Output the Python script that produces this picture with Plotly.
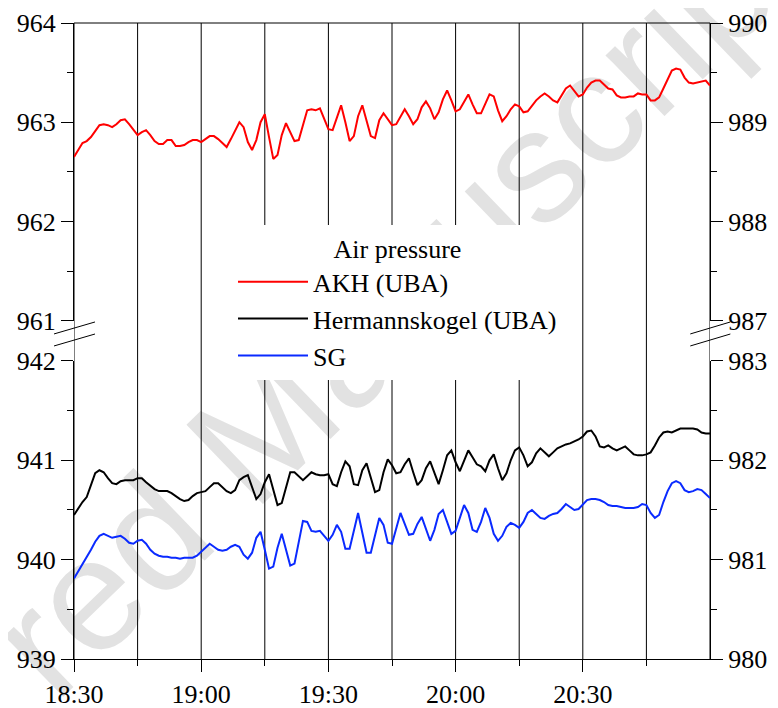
import plotly.graph_objects as go
import pandas as pd

# one reading per minute, 18:30 .. 21:00
times = pd.date_range("2000-01-01 18:30", "2000-01-01 21:00", freq="min")

akh = [962.65, 962.72, 962.79, 962.81, 962.85, 962.91, 962.97, 962.98, 962.97, 962.95,
       962.98, 963.02, 963.03, 962.98, 962.92, 962.87, 962.90, 962.92, 962.87, 962.81,
       962.78, 962.78, 962.82, 962.82, 962.76, 962.76, 962.77, 962.80, 962.82, 962.82,
       962.80, 962.83, 962.86, 962.86, 962.83, 962.79, 962.75, 962.83, 962.92, 963.00,
       962.95, 962.80, 962.72, 962.82, 963.00, 963.08, 962.85, 962.63, 962.67, 962.87,
       962.99, 962.90, 962.81, 962.82, 962.98, 963.12, 963.13, 963.12, 963.14, 963.03,
       962.93, 962.92, 963.05, 963.17, 963.00, 962.81, 962.86, 963.06, 963.17, 963.02,
       962.86, 962.84, 963.02, 963.09, 963.03, 962.97, 962.98, 963.05, 963.13, 963.06,
       962.98, 963.03, 963.15, 963.21, 963.14, 963.03, 963.10, 963.23, 963.32, 963.22,
       963.11, 963.13, 963.21, 963.28, 963.18, 963.09, 963.09, 963.18, 963.28, 963.26,
       963.12, 963.01, 963.06, 963.13, 963.18, 963.16, 963.10, 963.11, 963.17, 963.22,
       963.26, 963.29, 963.26, 963.22, 963.20, 963.27, 963.34, 963.37, 963.31, 963.26,
       963.28, 963.35, 963.40, 963.42, 963.42, 963.38, 963.34, 963.33, 963.27, 963.25,
       963.25, 963.26, 963.26, 963.29, 963.28, 963.28, 963.22, 963.22, 963.25, 963.34,
       963.43, 963.52, 963.54, 963.53, 963.45, 963.40, 963.39, 963.40, 963.41, 963.42,
       963.37]

hermannskogel = [
       940.45, 940.52, 940.58, 940.63, 940.75, 940.87, 940.90, 940.88, 940.82, 940.77,
       940.76, 940.79, 940.80, 940.80, 940.80, 940.82, 940.82, 940.78, 940.74, 940.71,
       940.69, 940.69, 940.69, 940.67, 940.64, 940.61, 940.59, 940.60, 940.64, 940.67,
       940.68, 940.69, 940.73, 940.77, 940.77, 940.73, 940.69, 940.67, 940.70, 940.80,
       940.83, 940.85, 940.72, 940.61, 940.66, 940.78, 940.86, 940.70, 940.55, 940.57,
       940.74, 940.88, 940.88, 940.84, 940.80, 940.84, 940.88, 940.86, 940.85, 940.85,
       940.86, 940.76, 940.74, 940.88, 940.99, 940.94, 940.76, 940.75, 940.90, 940.97,
       940.82, 940.68, 940.70, 940.88, 941.01, 940.95, 940.87, 940.88, 940.96, 941.02,
       940.88, 940.75, 940.80, 940.92, 940.99, 940.88, 940.76, 940.90, 941.05, 941.10,
       940.98, 940.89, 941.00, 941.10, 941.03, 940.96, 940.94, 940.89, 941.00, 941.06,
       940.92, 940.80, 940.87, 941.00, 941.10, 941.13, 941.05, 940.94, 940.98, 941.07,
       941.12, 941.08, 941.04, 941.08, 941.12, 941.14, 941.16, 941.17, 941.19, 941.21,
       941.24, 941.29, 941.30, 941.24, 941.14, 941.13, 941.15, 941.12, 941.10, 941.12,
       941.14, 941.10, 941.06, 941.05, 941.05, 941.06, 941.08, 941.15, 941.23, 941.28,
       941.29, 941.28, 941.30, 941.32, 941.32, 941.32, 941.32, 941.31, 941.28, 941.27,
       941.27]

sg = [939.81, 939.88, 939.96, 940.03, 940.10, 940.18, 940.24, 940.26, 940.24, 940.22,
      940.23, 940.24, 940.21, 940.17, 940.16, 940.19, 940.20, 940.16, 940.10, 940.06,
      940.04, 940.03, 940.03, 940.02, 940.02, 940.01, 940.02, 940.02, 940.02, 940.04,
      940.08, 940.13, 940.16, 940.13, 940.10, 940.09, 940.10, 940.13, 940.15, 940.13,
      940.05, 940.01, 940.07, 940.22, 940.28, 940.10, 939.91, 939.93, 940.12, 940.26,
      940.10, 939.94, 939.96, 940.18, 940.39, 940.38, 940.29, 940.28, 940.29, 940.24,
      940.19, 940.25, 940.35, 940.28, 940.11, 940.11, 940.30, 940.47, 940.27, 940.07,
      940.07, 940.25, 940.42, 940.35, 940.17, 940.16, 940.32, 940.47, 940.36, 940.25,
      940.26, 940.36, 940.43, 940.30, 940.19, 940.30, 940.46, 940.50, 940.38, 940.26,
      940.29, 940.42, 940.55, 940.47, 940.30, 940.28, 940.38, 940.52, 940.42, 940.26,
      940.19, 940.24, 940.33, 940.37, 940.35, 940.32, 940.38, 940.47, 940.50, 940.46,
      940.42, 940.41, 940.44, 940.46, 940.47, 940.51, 940.56, 940.53, 940.50, 940.51,
      940.56, 940.60, 940.61, 940.61, 940.60, 940.58, 940.55, 940.54, 940.54, 940.53,
      940.52, 940.52, 940.52, 940.53, 940.56, 940.55, 940.47, 940.42, 940.45, 940.58,
      940.69, 940.77, 940.79, 940.77, 940.70, 940.68, 940.69, 940.71, 940.70, 940.66,
      940.62]

tick_times = ["18:30", "19:00", "19:30", "20:00", "20:30"]
minor_times = ["18:45", "19:15", "19:45", "20:15", "20:45"]
grid_times = ["18:30", "18:45", "19:00", "19:15", "19:30", "19:45", "20:00",
              "20:15", "20:30", "20:45", "21:00"]

left_upper = [961, 962, 963, 964]
left_lower = [939, 940, 941, 942]
right_upper = [987, 988, 989, 990]
right_lower = [980, 981, 982, 983]

def day(hm):
    return "2000-01-01 " + hm

SERIF = "Liberation Serif"
FONT = dict(family=SERIF, size=26, color="black")

fig = go.Figure()
fig.add_trace(go.Scatter(x=times, y=akh, name="AKH (UBA)", mode="lines",
                         line=dict(color="#ff0000", width=2), yaxis="y"))
fig.add_trace(go.Scatter(x=times, y=hermannskogel, name="Hermannskogel (UBA)", mode="lines",
                         line=dict(color="black", width=2), yaxis="y2"))
fig.add_trace(go.Scatter(x=times, y=sg, name="SG", mode="lines",
                         line=dict(color="#0a2aff", width=2), yaxis="y2"))
# empty traces so the right hand axes get drawn
fig.add_trace(go.Scatter(x=[], y=[], yaxis="y3", showlegend=False, hoverinfo="skip"))
fig.add_trace(go.Scatter(x=[], y=[], yaxis="y4", showlegend=False, hoverinfo="skip"))

def yax(rng, vals, dom=None, side="left", overlay=None):
    d = dict(range=[rng[0], rng[-1]], tickvals=vals, ticks="outside", ticklen=12,
             tickcolor="black", tickwidth=1, showline=True, linecolor="black", linewidth=1,
             showgrid=False, zeroline=False, tickfont=dict(FONT), side=side, anchor="x",
             automargin=False,
             minor=dict(tickvals=[v + 0.5 for v in vals[:-1]], ticks="outside",
                        ticklen=6, tickcolor="black", showgrid=False))
    if dom is not None:
        d["domain"] = dom
    if overlay is not None:
        d["overlaying"] = overlay
    return d

shapes = []
# watermark
shapes.append(dict(type="rect", xref="paper", yref="paper", x0=0.482, x1=0.502, y0=0.576, y1=0.596,
                   line=dict(width=0), layer="below",
                   label=dict(text="red Manuscript", textangle=-44,
                              font=dict(family="Liberation Sans", size=160, color="#e2e2e2"))))
for t in grid_times:
    shapes.append(dict(type="line", xref="x", yref="paper", x0=day(t), x1=day(t), y0=0, y1=1,
                       line=dict(color="black", width=1), layer="below"))
shapes.append(dict(type="line", xref="paper", yref="paper", x0=0, x1=1, y0=1, y1=1,
                   line=dict(color="black", width=1)))
# axis break marks
for bx0, bx1 in [(-0.0314, 0.033), (0.969, 1.032)]:
    for yb in [0.5205, 0.5016]:
        shapes.append(dict(type="line", xref="paper", yref="paper", x0=bx0, x1=bx1,
                           y0=yb - 0.0094, y1=yb + 0.0094, line=dict(color="black", width=1)))

# the page has an 8px body margin, so the figure is 8px smaller than the window
fig.update_layout(
    width=770, height=700,
    margin=dict(l=66, r=68, t=15, b=49, autoexpand=False),
    paper_bgcolor="white", plot_bgcolor="rgba(0,0,0,0)",
    font=FONT,
    showlegend=True,
    legend=dict(x=0.250, y=0.683, xanchor="left", yanchor="top", bgcolor="white",
                borderwidth=0, font=dict(FONT), itemwidth=70,
                title=dict(text="Air pressure", side="top center", font=dict(FONT))),
    xaxis=dict(type="date", range=[day("18:30"), day("21:00")], anchor="y2",
               tickvals=[day(t) for t in tick_times], ticktext=tick_times,
               ticks="outside", ticklen=12, tickcolor="black", tickwidth=1,
               minor=dict(tickvals=[day(t) for t in minor_times], ticks="outside",
                          ticklen=6, tickcolor="black", showgrid=False),
               showline=True, linecolor="black", linewidth=1, showgrid=False,
               zeroline=False, tickfont=dict(FONT), automargin=False),
    yaxis=yax(left_upper, left_upper, dom=[0.532, 1]),
    yaxis2=yax(left_lower, left_lower, dom=[0, 0.4686]),
    yaxis3=yax(right_upper, right_upper, side="right", overlay="y"),
    yaxis4=yax(right_lower, right_lower, side="right", overlay="y2"),
    shapes=shapes,
)

fig.write_html("out.html")
